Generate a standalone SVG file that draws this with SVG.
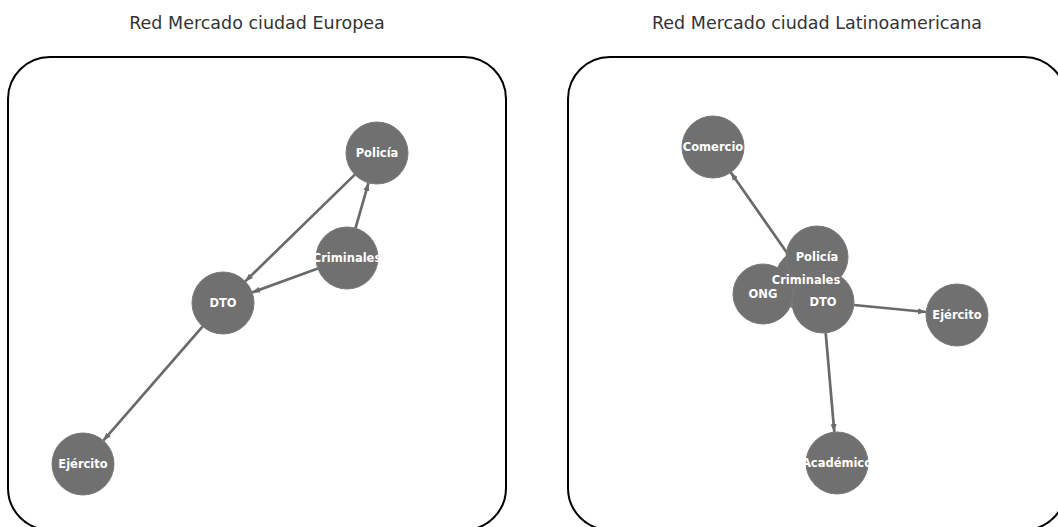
<svg xmlns="http://www.w3.org/2000/svg" width="1058" height="527" viewBox="0 0 1058 527">
<style>
.frame{fill:none;stroke:#000;stroke-width:2}
.title{font-family:"DejaVu Sans",sans-serif;font-size:17.5px;fill:#333;text-anchor:middle}
.node circle{fill:#707070;stroke:#7a7a7a;stroke-width:1}
.node text{font-family:"DejaVu Sans",sans-serif;font-weight:bold;font-size:11.5px;fill:#fff;text-anchor:middle;dominant-baseline:central}
.edge{stroke:#6a6a6a;stroke-width:2.7;fill:none;marker-end:url(#arr)}
</style>
<defs>
<marker id="arr" markerUnits="userSpaceOnUse" markerWidth="9" markerHeight="7" refX="8" refY="3.5" orient="auto">
<path d="M0,0.5 L8,3.5 L0,6.5 z" fill="#6a6a6a"/>
</marker>
</defs>
<rect x="0" y="0" width="1058" height="527" fill="#fff"/>
<text class="title" x="257" y="29">Red Mercado ciudad Europea</text>
<text class="title" x="817" y="29">Red Mercado ciudad Latinoamericana</text>
<rect class="frame" x="8" y="57" width="498" height="473" rx="42" ry="42"/>
<rect class="frame" x="568" y="57" width="498" height="473" rx="42" ry="42"/>
<g id="connectors">
<line class="edge" x1="354.8" y1="174.6" x2="245.2" y2="281.4"/>
<line class="edge" x1="355.5" y1="228.2" x2="368.5" y2="182.8"/>
<line class="edge" x1="317.9" y1="268.6" x2="252.1" y2="292.4"/>
<line class="edge" x1="202.7" y1="326.4" x2="103.3" y2="440.6"/>
<line class="edge" x1="788.2" y1="254.6" x2="730.8" y2="172.4"/>
<line class="edge" x1="853.9" y1="305" x2="926.1" y2="312"/>
<line class="edge" x1="825.7" y1="332.9" x2="834.3" y2="432.1"/>
</g>
<g id="eu-policia" class="node"><circle cx="377" cy="153" r="31"/></g>
<g id="eu-criminales" class="node"><circle cx="347" cy="258" r="31"/></g>
<g id="eu-dto" class="node"><circle cx="223" cy="303" r="31"/></g>
<g id="eu-ejercito" class="node"><circle cx="83" cy="464" r="31"/></g>
<g id="la-comercio" class="node"><circle cx="713" cy="147" r="31"/></g>
<g id="la-criminales" class="node"><circle cx="806" cy="280" r="31"/></g>
<g id="la-policia" class="node"><circle cx="817" cy="257" r="31"/></g>
<g id="la-ong" class="node"><circle cx="763" cy="294" r="30"/></g>
<g id="la-dto" class="node"><circle cx="823" cy="302" r="31"/></g>
<g id="la-ejercito" class="node"><circle cx="957" cy="315" r="31"/></g>
<g id="la-academico" class="node"><circle cx="837" cy="463" r="31"/></g>
<g id="labels" class="node">
<text x="377" y="153">Policía</text>
<text x="347" y="258">Criminales</text>
<text x="223" y="303">DTO</text>
<text x="83" y="464">Ejército</text>
<text x="713" y="147">Comercio</text>
<text x="817" y="257">Policía</text>
<text x="763" y="294">ONG</text>
<text x="823" y="302">DTO</text>
<text x="806" y="280">Criminales</text>
<text x="957" y="315">Ejército</text>
<text x="837" y="463">Académico</text>
</g>
</svg>
